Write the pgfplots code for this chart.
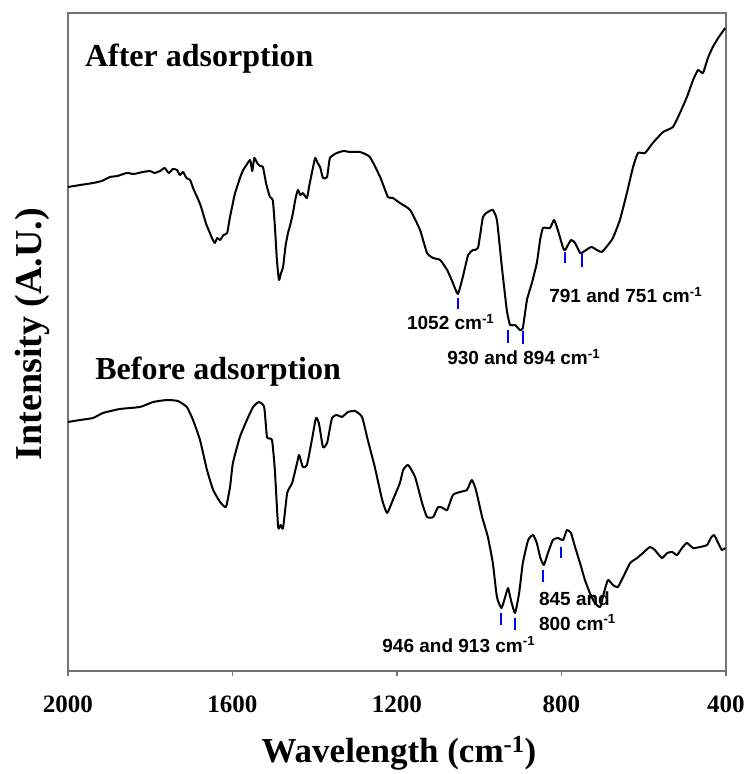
\documentclass[border=0pt]{standalone}
\usepackage{pgfplots}
\pgfplotsset{compat=1.18}
\usepackage{fontspec}
\setmainfont{Liberation Serif}
\newfontfamily\arial{Liberation Sans}

\pgfplotstableread{
w y
2000 484
1970 486
1939 488
1918 490
1898 494
1880 495
1857 498
1840 497
1818 499
1800 500
1790 498
1776 500
1765 503
1755 498
1745 502
1735 501
1728 496
1720 499
1712 493
1703 491
1695 482
1686 474
1678 466
1672 458
1664 447
1655 438
1649 432
1643 428
1637 433
1630 431
1622 436
1613 438
1607 452
1601 464
1595 476
1589 484
1581 494
1574 501
1566 506
1557 511
1552 500
1547 513
1540 508
1533 505
1526 504
1518 487
1509 474
1502 471
1497 445
1492 411
1487 391
1482 398
1477 404
1471 425
1465 438
1459 447
1453 458
1447 472
1441 481
1435 476
1429 478
1419 473
1413 486
1407 498
1399 513
1393 508
1387 504
1380 493
1370 494
1363 513
1346 518
1330 520
1314 519
1290 519
1266 514
1241 494
1222 474
1210 473
1193 468
1168 461
1144 441
1127 418
1112 413
1095 411
1078 401
1064 388
1052 377
1040 394
1027 416
1015 421
1003 423
991 454
979 459
967 461
957 451
945 404
933 361
925 346
913 346
901 341
894 343
884 371
872 388
860 408
852 431
845 443
828 443
818 451
809 441
796 423
791 421
777 431
767 428
755 418
751 418
728 424
714 421
702 419
687 426
675 433
658 451
641 478
626 504
614 518
597 518
578 528
553 539
529 544
512 558
495 574
480 591
468 601
456 598
444 613
432 624
419 633
402 643
}\after

\pgfplotstableread{
w y
2000 249
1971 251
1939 253
1915 258
1874 262
1825 264
1793 269
1759 271
1733 270
1711 264
1696 251
1679 231
1662 201
1647 181
1630 169
1616 164
1606 184
1599 208
1582 234
1565 251
1550 264
1536 269
1523 264
1516 234
1504 231
1497 201
1489 144
1483 146
1477 143
1467 178
1455 188
1443 208
1438 216
1429 204
1419 206
1407 231
1397 253
1390 248
1380 224
1370 228
1358 253
1346 256
1334 254
1319 259
1302 260
1285 254
1271 231
1254 204
1236 171
1224 158
1210 171
1193 188
1185 201
1173 206
1156 194
1139 168
1127 154
1112 154
1100 164
1088 163
1078 161
1064 176
1047 179
1030 181
1018 191
1008 181
993 154
979 134
967 108
957 74
946 63
937 74
930 83
923 71
913 58
903 78
894 108
881 131
869 136
860 128
852 114
843 106
833 118
821 131
809 133
796 131
787 141
777 138
767 124
755 108
743 91
731 78
719 68
706 64
697 78
687 91
675 86
663 84
650 94
633 108
616 113
602 118
585 124
573 121
556 113
543 118
531 119
519 116
507 123
495 128
480 123
463 124
446 126
437 133
429 136
419 128
410 121
402 123
}\before

\begin{document}
\begin{tikzpicture}
\useasboundingbox (0pt,0pt) rectangle (748pt,774pt);
\begin{axis}[
  at={(68pt,103pt)}, anchor=south west,
  scale only axis, width=658pt, height=658pt,
  xmin=400, xmax=2000, ymin=0, ymax=658, x dir=reverse,
  xtick={400,800,1200,1600,2000}, ytick=\empty,
  xtick pos=bottom, tick align=outside, major tick length=5pt,
  axis line style={draw=black!55, line width=1.3pt},
  every tick/.style={draw=black!55, line width=1.3pt},
  /pgf/number format/assume math mode=true,
  /pgf/number format/1000 sep={},
  xticklabel style={font=\fontsize{25}{30}\selectfont\bfseries, yshift=-16pt},
  xlabel={Wavelength (cm\textsuperscript{-1})},
  xlabel style={at={(axis description cs:0.503,-0.1383)}, anchor=base, font=\fontsize{35}{42}\selectfont\bfseries},
  ylabel={Intensity (A.U.)},
  ylabel style={at={(axis description cs:-0.0395,0.512)}, anchor=base, font=\fontsize{38}{45}\selectfont\bfseries},
]
\addplot[black, line width=2pt, line join=round, smooth, tension=0.3] table[x=w, y=y] {\after};
\addplot[black, line width=2pt, line join=round, smooth, tension=0.3] table[x=w, y=y] {\before};

% blue marker ticks
\addplot[blue, line width=2pt] coordinates {(1052,373) (1052,362)};
\addplot[blue, line width=2pt] coordinates {(930,341) (930,328)};
\addplot[blue, line width=2pt] coordinates {(894,340) (894,327)};
\addplot[blue, line width=2pt] coordinates {(791,419) (791,408)};
\addplot[blue, line width=2pt] coordinates {(751,418) (751,404)};
\addplot[blue, line width=2pt] coordinates {(946,58) (946,46)};
\addplot[blue, line width=2pt] coordinates {(913,53) (913,41)};
\addplot[blue, line width=2pt] coordinates {(845,101) (845,89)};
\addplot[blue, line width=2pt] coordinates {(800,124) (800,113)};

\node[anchor=base west, inner sep=0, font=\fontsize{32}{38}\selectfont\bfseries] at (axis cs:1959,604) {After adsorption};
\node[anchor=base west, inner sep=0, font=\fontsize{32}{38}\selectfont\bfseries] at (axis cs:1934,291) {Before adsorption};

\node[anchor=base west, inner sep=0, font=\arial\fontsize{19}{23}\selectfont\bfseries] at (axis cs:1176,341) {1052 cm\textsuperscript{-1}};
\node[anchor=base west, inner sep=0, font=\arial\fontsize{19}{23}\selectfont\bfseries] at (axis cs:1078,306) {930 and 894 cm\textsuperscript{-1}};
\node[anchor=base west, inner sep=0, font=\arial\fontsize{19}{23}\selectfont\bfseries] at (axis cs:830,368) {791 and 751 cm\textsuperscript{-1}};
\node[anchor=base west, inner sep=0, font=\arial\fontsize{19}{23}\selectfont\bfseries] at (axis cs:1236,19) {946 and 913 cm\textsuperscript{-1}};
\node[anchor=base west, inner sep=0, font=\arial\fontsize{19}{23}\selectfont\bfseries] at (axis cs:855,65) {845 and};
\node[anchor=base west, inner sep=0, font=\arial\fontsize{19}{23}\selectfont\bfseries] at (axis cs:855,41) {800 cm\textsuperscript{-1}};
\end{axis}
\end{tikzpicture}
\end{document}
